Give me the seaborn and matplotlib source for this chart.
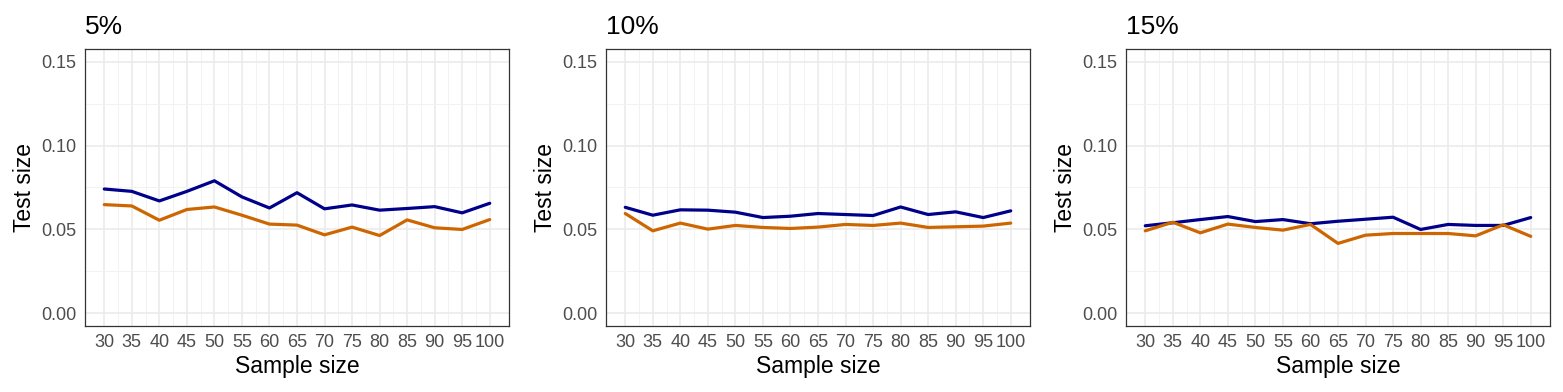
import pandas as pd
import matplotlib.pyplot as plt
import numpy as np
import seaborn as sns

# sample sizes on the x axis
sample_sizes = [30, 35, 40, 45, 50, 55, 60, 65, 70, 75, 80, 85, 90, 95, 100]
panel_titles = ['5%', '10%', '15%']

# test sizes (blue / orange per panel)
blue_5 = [0.0741, 0.0727, 0.0670, 0.0727, 0.0790, 0.0694, 0.0628, 0.0719,
          0.0623, 0.0646, 0.0615, 0.0625, 0.0636, 0.0599, 0.0656]
orange_5 = [0.0648, 0.0640, 0.0555, 0.0619, 0.0634, 0.0585, 0.0532, 0.0526,
            0.0468, 0.0514, 0.0464, 0.0557, 0.0510, 0.0500, 0.0559]

blue_10 = [0.0632, 0.0585, 0.0617, 0.0615, 0.0603, 0.0571, 0.0579, 0.0595,
           0.0589, 0.0583, 0.0634, 0.0589, 0.0605, 0.0571, 0.0611]
orange_10 = [0.0595, 0.0492, 0.0538, 0.0502, 0.0524, 0.0512, 0.0506, 0.0514,
             0.0530, 0.0524, 0.0538, 0.0512, 0.0516, 0.0520, 0.0538]

blue_15 = [0.0522, 0.0540, 0.0559, 0.0577, 0.0547, 0.0559, 0.0534, 0.0549,
           0.0561, 0.0573, 0.0500, 0.0530, 0.0524, 0.0524, 0.0571]
orange_15 = [0.0492, 0.0543, 0.0480, 0.0532, 0.0512, 0.0496, 0.0530, 0.0417,
             0.0466, 0.0476, 0.0476, 0.0476, 0.0462, 0.0528, 0.0459]

series = [(blue_5, orange_5), (blue_10, orange_10), (blue_15, orange_15)]
colors = {'A': '#00008B', 'B': '#CD6600'}

sns.set_style('white')
plt.rcParams['font.family'] = ['Liberation Sans', 'DejaVu Sans']

fig = plt.figure(figsize=(15.63, 3.92), dpi=100)

lefts = [85 / 1563, 606 / 1563, 1126 / 1563]
for i, (title, (b, o)) in enumerate(zip(panel_titles, series)):
    ax = fig.add_axes([lefts[i], 66 / 392, 424 / 1563, 277 / 392])

    df = pd.DataFrame({
        'Sample size': sample_sizes * 2,
        'Test size': b + o,
        'method': ['A'] * len(b) + ['B'] * len(o),
    })

    # grid first so lines sit on top
    ax.set_axisbelow(True)
    ax.set_xticks(sample_sizes)
    ax.set_xticks(np.arange(32.5, 100, 5), minor=True)
    ax.set_yticks([0.0, 0.05, 0.10, 0.15])
    ax.set_yticks([0.025, 0.075, 0.125], minor=True)
    ax.grid(which='major', color='#EBEBEB', linewidth=1.2)
    ax.grid(which='minor', color='#F2F2F2', linewidth=0.7)

    sns.lineplot(data=df, x='Sample size', y='Test size', hue='method',
                 palette=colors, linewidth=2.3, legend=False, ax=ax)

    ax.set_xlim(26.5, 103.5)
    ax.set_ylim(-0.0075, 0.1575)
    ax.set_yticklabels(['0.00', '0.05', '0.10', '0.15'])
    ax.tick_params(axis='both', which='major', labelsize=13, colors='#333333',
                   labelcolor='#4D4D4D', length=4, width=0.8, pad=2)
    ax.tick_params(axis='both', which='minor', length=0)
    for s in ax.spines.values():
        s.set_color('#333333')
        s.set_linewidth(0.9)

    ax.set_xlabel('Sample size', fontsize=16.5, labelpad=3, color='black')
    ax.set_ylabel('Test size', fontsize=16.5, labelpad=4, color='black')
    ax.set_title(title, fontsize=19, loc='left', pad=11, color='black')

plt.savefig('out.png', dpi=100)
